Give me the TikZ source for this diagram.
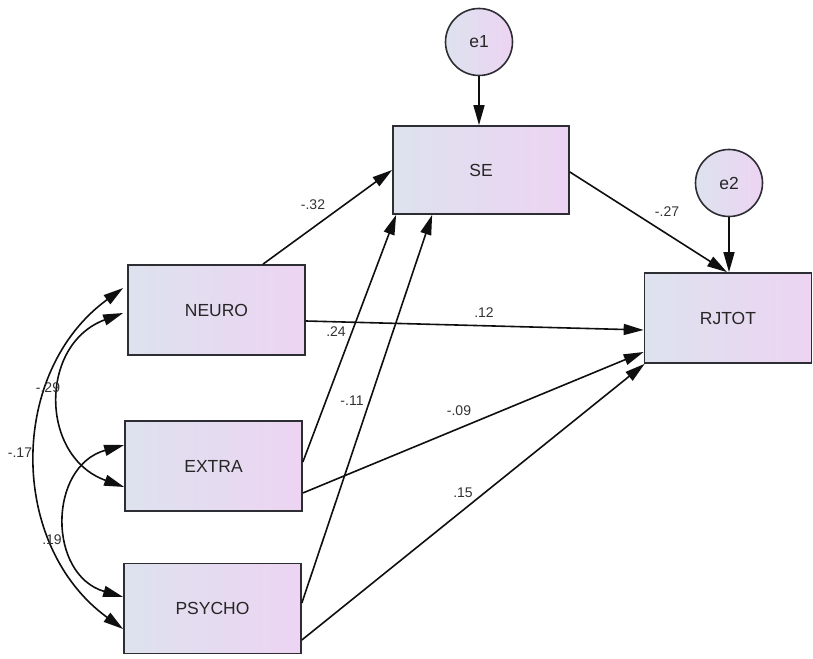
\documentclass[tikz,border=0pt]{standalone}
\usepackage{fontspec}
\setmainfont{Liberation Sans}
\usetikzlibrary{arrows.meta,calc}
\definecolor{boxleft}{RGB}{221,226,238}
\definecolor{boxright}{RGB}{237,212,242}
\definecolor{edgeink}{RGB}{15,15,15}
\definecolor{frameink}{RGB}{45,45,52}
\definecolor{labelink}{RGB}{50,50,50}
\begin{document}
\begin{tikzpicture}[x=1pt,y=1pt,
  observed/.style={draw=frameink, line width=1.7pt, left color=boxleft, right color=boxright,
    minimum width=177pt, minimum height=90pt, inner sep=0pt,
    font=\fontsize{17.5}{18}\selectfont, text=black!85},
  errorterm/.style={circle, draw=frameink, line width=1.6pt, left color=boxleft, right color=boxright,
    minimum size=67pt, inner sep=0pt, font=\fontsize{17.5}{18}\selectfont, text=black!85},
  onehead/.style={draw=edgeink, line width=1.6pt, -{Triangle[length=20pt,width=11pt]}},
  twohead/.style={draw=edgeink, line width=1.6pt, {Triangle[length=20pt,width=11pt]}-{Triangle[length=20pt,width=11pt]}},
  coef/.style={font=\fontsize{14}{14}\selectfont, text=labelink, inner sep=0pt}
]
\useasboundingbox (0,0) rectangle (813,658);

% observed variables
\node[observed] (neuro)  at (216.5,348)  {NEURO};
\node[observed] (extra)  at (213.5,192)  {EXTRA};
\node[observed] (psycho) at (212.5,49.5) {PSYCHO};
\node[observed, minimum width=176pt, minimum height=88pt] (se) at (481,488) {SE};
\node[observed, minimum width=167pt] (rjtot) at (728,340) {RJTOT};

% error terms
\node[errorterm] (e1) at (479,616) {e1};
\node[errorterm] (e2) at (729,475) {e2};

% error paths
\draw[onehead] (e1.south) -- (e1.south |- se.north);
\draw[onehead] (e2.south) -- (e2.south |- rjtot.north);

% regression paths
\draw[onehead] ($(neuro.north)+(46.5,0)$) -- (se.west);
\draw[onehead] ($(extra.east)+(0,4)$) -- ($(se.south west)+(4,0)$);
\draw[onehead] ($(psycho.east)+(0,5.5)$) -- ($(se.south west)+(40,0)$);
\draw[onehead] ($(neuro.east)+(0,-11)$) -- ($(rjtot.west)+(0,-12)$);
\draw[onehead] ($(extra.east)+(0,-27)$) -- ($(rjtot.west)+(0,-34)$);
\draw[onehead] ($(psycho.east)+(0,-31.5)$) -- ($(rjtot.south west)+(1,0)$);
\draw[onehead] ($(se.east)+(0,-2)$) -- ($(rjtot.north)+(-1,0)$);

% covariances
\draw[twohead] ($(neuro.west)+(-4,22)$) to[bend right=54, looseness=1.07] ($(psycho.west)+(0,-20.5)$);
\draw[twohead] ($(neuro.west)+(-4,-3)$) to[bend right=70, looseness=1.32] ($(extra.west)+(0,-21)$);
\draw[twohead] ($(extra.west)+(0,21)$) to[bend right=74, looseness=1.33] ($(psycho.west)+(0,11.5)$);

% coefficients
\node[coef] (c1) at (313,453) {-.32};
\node[coef] (c2) at (484,345) {.12};
\node[coef] (c3) at (336,326) {.24};
\node[coef] (c4) at (352,257) {-.11};
\node[coef] (c5) at (459,247) {-.09};
\node[coef] (c6) at (463,165) {.15};
\node[coef] (c7) at (667,446) {-.27};
\node[coef] (c8) at (48,270) {-.29};
\node[coef] (c9) at (20,205) {-.17};
\node[coef] (c10) at (52,118) {.19};
\end{tikzpicture}
\end{document}
